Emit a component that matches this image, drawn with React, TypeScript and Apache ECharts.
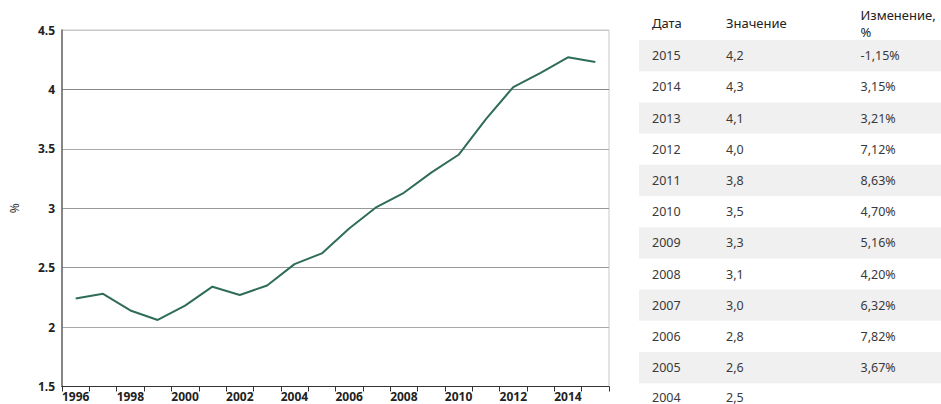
import React, { useEffect, useRef } from "react";
import * as echarts from "echarts";

const years: string[] = [
  "1996", "1997", "1998", "1999", "2000", "2001", "2002", "2003", "2004", "2005",
  "2006", "2007", "2008", "2009", "2010", "2011", "2012", "2013", "2014", "2015",
];
const values: number[] = [
  2.24, 2.28, 2.14, 2.06, 2.18, 2.34, 2.27, 2.35, 2.53, 2.62,
  2.83, 3.01, 3.13, 3.3, 3.45, 3.75, 4.02, 4.14, 4.27, 4.23,
];
const yTicks = { min: 1.5, max: 4.5, interval: 0.5 };
const axisName = "%";

const tableHeaders: string[] = ["Дата", "Значение", "Изменение,\n%"];
const tableYears: string[] = [
  "2015", "2014", "2013", "2012", "2011", "2010", "2009", "2008", "2007", "2006", "2005", "2004",
];
const tableValues: string[] = [
  "4,2", "4,3", "4,1", "4,0", "3,8", "3,5", "3,3", "3,1", "3,0", "2,8", "2,6", "2,5",
];
const tableChanges: string[] = [
  "-1,15%", "3,15%", "3,21%", "7,12%", "8,63%", "4,70%", "5,16%", "4,20%", "6,32%", "7,82%", "3,67%", "",
];

const LINE_COLOR = "#2f6d57";
const FONT = "'Noto Sans', sans-serif";

export default function App() {
  const ref = useRef<HTMLDivElement>(null);

  useEffect(() => {
    if (!ref.current) return;
    const chart = echarts.init(ref.current, null, { renderer: "svg" });

    const colX = [652, 726, 860.5];
    const rowH = 31.2;
    const rowTop = 40;
    const graphic: any[] = [];
    tableYears.forEach((_, i) => {
      if (i % 2 === 0) {
        graphic.push({
          type: "rect",
          shape: { x: 639, y: rowTop + i * rowH, width: 302, height: rowH },
          style: { fill: "#f0f0f0" },
          silent: true,
        });
      }
    });
    graphic.push({
      type: "text",
      x: colX[0],
      y: 23,
      style: { text: tableHeaders[0], fill: "#222", font: `13px ${FONT}`, textVerticalAlign: "middle" },
    });
    graphic.push({
      type: "text",
      x: colX[1],
      y: 23,
      style: { text: tableHeaders[1], fill: "#222", font: `13px ${FONT}`, textVerticalAlign: "middle" },
    });
    graphic.push({
      type: "text",
      x: colX[2],
      y: 23.5,
      style: {
        text: tableHeaders[2],
        fill: "#222",
        font: `13px ${FONT}`,
        lineHeight: 17,
        textVerticalAlign: "middle",
      },
    });
    tableYears.forEach((y, i) => {
      const cy = Math.min(rowTop + i * rowH + rowH / 2, 397);
      [y, tableValues[i], tableChanges[i]].forEach((t, c) => {
        if (!t) return;
        graphic.push({
          type: "text",
          x: colX[c],
          y: cy,
          style: {
            text: t,
            fill: "#3a3a3a",
            font: `12.5px ${FONT}`,
            lineHeight: 12.5,
            textVerticalAlign: "middle",
          },
        });
      });
    });

    chart.setOption({
      animation: false,
      backgroundColor: "#fff",
      grid: {
        left: 59,
        top: 30,
        width: 550,
        height: 356.5,
        show: true,
        borderColor: "#c8c8c8",
        borderWidth: 1,
        containLabel: false,
      },
      xAxis: {
        type: "category",
        data: years,
        boundaryGap: true,
        axisLine: { show: true, lineStyle: { color: "#333", width: 1 } },
        axisTick: { show: true, alignWithLabel: false, interval: 0, length: 5, lineStyle: { color: "#333" } },
        axisLabel: {
          interval: 1,
          color: "#222",
          fontWeight: "bold",
          fontFamily: FONT,
          fontSize: 12,
          lineHeight: 12,
          margin: 4,
        },
        splitLine: { show: false },
      },
      yAxis: {
        type: "value",
        min: yTicks.min,
        max: yTicks.max,
        interval: yTicks.interval,
        name: axisName,
        nameLocation: "middle",
        nameRotate: 90,
        nameGap: 42,
        nameTextStyle: { color: "#333", fontFamily: FONT, fontSize: 12 },
        axisLine: { show: true, lineStyle: { color: "#666", width: 1.5 } },
        axisTick: { show: false },
        axisLabel: {
          color: "#222",
          fontWeight: "bold",
          fontFamily: FONT,
          fontSize: 12,
          margin: 7,
        },
        splitLine: {
          show: true,
          lineStyle: { color: ["#888", "#aaa", "#999", "#999", "#aaa", "#888", "#c8c8c8"], width: 1 },
        },
      },
      series: [
        {
          type: "line",
          data: values,
          symbol: "none",
          lineStyle: { color: LINE_COLOR, width: 2 },
          itemStyle: { color: LINE_COLOR },
        },
      ],
      graphic,
    });

    return () => chart.dispose();
  }, []);

  return (
    <div
      ref={ref}
      style={{ position: "absolute", left: 0, top: 0, width: 941, height: 404 }}
    />
  );
}
